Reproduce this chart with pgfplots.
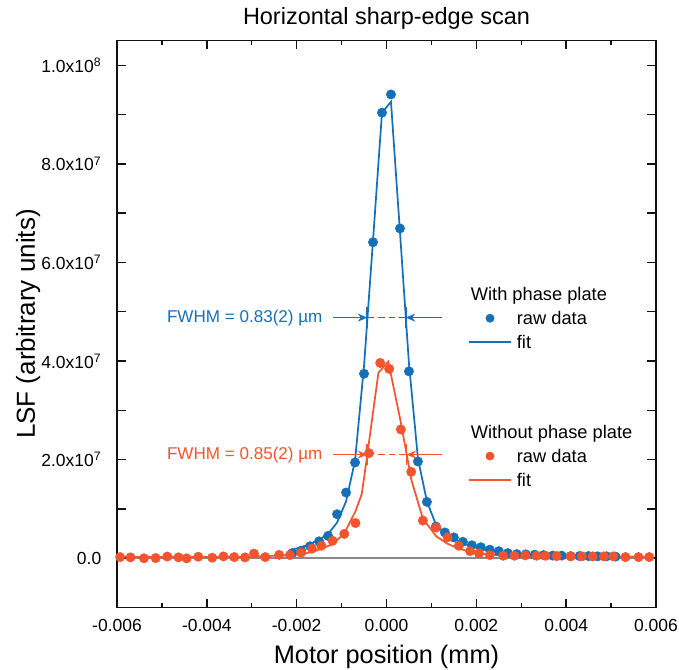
\documentclass[border=0pt]{standalone}
\usepackage{fontspec}
\setmainfont{Liberation Sans}
\usepackage{pgfplots}
\pgfplotsset{compat=1.18}
\usetikzlibrary{arrows.meta}
\definecolor{pblue}{HTML}{1570B8}
\definecolor{pred}{HTML}{F2542D}
\definecolor{zgray}{HTML}{8A8A8A}
\definecolor{frame}{HTML}{121212}

\begin{document}
\begin{tikzpicture}
\begin{axis}[
  scale only axis, width=404.25pt, height=424.95pt,
  xmin=-0.006, xmax=0.006, ymin=-1e7, ymax=1.05e8,
  name=main, clip=false, axis on top,
  axis line style={frame, line width=1.1pt},
  tick align=inside,
  tick style={frame, line width=1.1pt},
  major tick length=6.4pt, minor tick length=3.4pt,
  scaled x ticks=false, scaled y ticks=false,
  xtick={-0.006,-0.004,-0.002,0,0.002,0.004,0.006},
  xticklabels={-0.006,-0.004,-0.002,0.000,0.002,0.004,0.006},
  minor xtick={-0.005,-0.003,-0.001,0.001,0.003,0.005},
  ytick={0,1e7,2e7,3e7,4e7,5e7,6e7,7e7,8e7,9e7,1e8},
  yticklabels={0.0,,2.0x10\textsuperscript{7},,4.0x10\textsuperscript{7},,6.0x10\textsuperscript{7},,8.0x10\textsuperscript{7},,1.0x10\textsuperscript{8}},
  tick label style={font=\fontsize{13.1}{15}\selectfont},
  xticklabel style={yshift=-5.1pt},
  yticklabel style={xshift=-8.3pt},
  title={Horizontal sharp-edge scan},
  every axis title/.style={at={(axis description cs:0.5,1.040)}, anchor=center, inner sep=0pt, font=\fontsize{17.6}{19}\selectfont},
  xlabel={Motor position (mm)},
  xlabel style={at={(axis description cs:0.5,-0.0877)}, anchor=center, inner sep=0pt, font=\fontsize{19}{21}\selectfont},
  ylabel={LSF (arbitrary units)},
  ylabel style={at={(axis description cs:-0.165,0.5)}, anchor=center, inner sep=0pt, font=\fontsize{19.5}{21}\selectfont},
  legend style={draw=none, fill=none, at={(rel axis cs:0.651,0.5678)}, anchor=north west,
    inner sep=0pt, row sep=5.2pt, column sep=3.75pt,
    font=\fontsize{13.7}{16}\selectfont, nodes={inner sep=0pt}},
  legend cell align=left,
  legend image code/.code={\draw[mark repeat=2,mark phase=2,#1] plot coordinates {(0pt,0pt) (15.75pt,0pt) (31.5pt,0pt)};},
]
\addplot[zgray, line width=1.3pt, forget plot] coordinates {(-0.006,0) (0.006,0)};

% with phase plate: raw data
\addplot[only marks, mark=*, mark size=3.5pt, pblue, forget plot] table {
x y
-2.1e-3 0.10e7
-1.9e-3 0.15e7
-1.7e-3 0.24e7
-1.5e-3 0.34e7
-1.3e-3 0.45e7
-1.1e-3 0.89e7
-0.9e-3 1.33e7
-0.7e-3 1.94e7
-0.5e-3 3.74e7
-0.3e-3 6.41e7
-0.1e-3 9.04e7
0.1e-3 9.41e7
0.3e-3 6.69e7
0.5e-3 3.79e7
0.7e-3 1.96e7
0.9e-3 1.14e7
1.1e-3 0.64e7
1.3e-3 0.52e7
1.5e-3 0.42e7
1.7e-3 0.33e7
1.9e-3 0.26e7
2.1e-3 0.22e7
2.3e-3 0.17e7
2.5e-3 0.14e7
2.7e-3 0.10e7
2.9e-3 0.08e7
3.1e-3 0.075e7
3.3e-3 0.068e7
3.5e-3 0.06e7
3.7e-3 0.05e7
3.9e-3 0.05e7
4.1e-3 0.04e7
4.3e-3 0.04e7
4.5e-3 0.04e7
4.7e-3 0.035e7
4.9e-3 0.035e7
5.1e-3 0.03e7
};
% with phase plate: fit
\addplot[pblue, line width=1.3pt, forget plot] table {
x y
-2.1e-3 0.17e7
-1.9e-3 0.22e7
-1.7e-3 0.29e7
-1.5e-3 0.37e7
-1.3e-3 0.49e7
-1.1e-3 0.72e7
-0.9e-3 1.15e7
-0.7e-3 1.98e7
-0.5e-3 3.9e7
-0.3e-3 6.45e7
-0.1e-3 9.04e7
0.1e-3 9.26e7
0.3e-3 6.62e7
0.5e-3 3.95e7
0.7e-3 2.02e7
0.9e-3 1.15e7
1.1e-3 0.68e7
1.3e-3 0.50e7
1.5e-3 0.38e7
1.7e-3 0.30e7
1.9e-3 0.24e7
2.1e-3 0.19e7
2.3e-3 0.15e7
2.5e-3 0.12e7
2.7e-3 0.10e7
2.9e-3 0.085e7
3.1e-3 0.07e7
3.5e-3 0.055e7
4.1e-3 0.04e7
4.5e-3 0.035e7
5.1e-3 0.03e7
};

% without phase plate: raw data
\addplot[only marks, mark=*, mark size=3.5pt, pred, forget plot] table {
x y
-5.93e-3 0.02e7
-5.70e-3 0.014e7
-5.40e-3 -0.005e7
-5.14e-3 0.0
-4.88e-3 0.03e7
-4.63e-3 0.014e7
-4.45e-3 -0.005e7
-4.19e-3 0.027e7
-3.88e-3 0.007e7
-3.63e-3 0.034e7
-3.39e-3 0.02e7
-3.15e-3 0.014e7
-2.95e-3 0.09e7
-2.70e-3 0.02e7
-2.39e-3 0.065e7
-2.15e-3 0.06e7
-1.90e-3 0.11e7
-1.66e-3 0.19e7
-1.45e-3 0.25e7
-1.20e-3 0.35e7
-0.94e-3 0.49e7
-0.69e-3 0.71e7
-0.39e-3 2.13e7
-0.14e-3 3.96e7
0.06e-3 3.84e7
0.32e-3 2.61e7
0.55e-3 1.75e7
0.81e-3 0.76e7
1.11e-3 0.62e7
1.36e-3 0.42e7
1.61e-3 0.25e7
1.86e-3 0.14e7
2.06e-3 0.095e7
2.30e-3 0.06e7
2.60e-3 0.047e7
2.85e-3 0.047e7
3.09e-3 0.054e7
3.34e-3 0.047e7
3.54e-3 0.047e7
3.79e-3 0.04e7
4.10e-3 0.034e7
4.35e-3 0.034e7
4.59e-3 0.034e7
4.84e-3 0.034e7
5.05e-3 0.034e7
5.32e-3 0.02e7
5.61e-3 0.02e7
5.85e-3 0.02e7
};
% without phase plate: fit
\addplot[pred, line width=1.3pt, forget plot] table {
x y
-5.93e-3 0.02e7
-4.19e-3 0.02e7
-3.63e-3 0.025e7
-3.15e-3 0.03e7
-2.70e-3 0.04e7
-2.39e-3 0.05e7
-2.15e-3 0.06e7
-1.90e-3 0.08e7
-1.66e-3 0.12e7
-1.45e-3 0.19e7
-1.20e-3 0.28e7
-0.94e-3 0.50e7
-0.69e-3 0.95e7
-0.55e-3 1.30e7
-0.43e-3 2.08e7
-0.18e-3 3.76e7
0.04e-3 3.99e7
0.32e-3 2.75e7
0.55e-3 1.60e7
0.81e-3 0.80e7
1.11e-3 0.44e7
1.36e-3 0.29e7
1.61e-3 0.19e7
1.86e-3 0.13e7
2.06e-3 0.10e7
2.30e-3 0.07e7
2.60e-3 0.055e7
2.85e-3 0.05e7
3.54e-3 0.04e7
4.10e-3 0.035e7
4.84e-3 0.03e7
5.85e-3 0.025e7
};

% legend: two groups, one spacer row between them
\addlegendimage{empty legend}
\addlegendentry{\strut\hspace*{-34.5pt}With phase plate}
\addlegendimage{only marks, mark=*, mark size=3.1pt, pblue}
\addlegendentry{\strut raw data}
\addlegendimage{pblue, line width=1.3pt}
\addlegendentry{\strut fit}
\addlegendimage{empty legend}
\addlegendentry{\rule{0pt}{43pt}}
\addlegendimage{empty legend}
\addlegendentry{\strut\hspace*{-34.5pt}Without phase plate}
\addlegendimage{only marks, mark=*, mark size=3.1pt, pred}
\addlegendentry{\strut raw data}
\addlegendimage{pred, line width=1.3pt}
\addlegendentry{\strut fit}

% FWHM annotations
\draw[pblue, line width=1.1pt, -{Stealth[length=7pt,width=6pt]}] (axis cs:-1.18e-3,4.88e7) -- (axis cs:-0.43e-3,4.88e7);
\draw[pblue, line width=1.1pt, -{Stealth[length=7pt,width=6pt]}] (axis cs:1.23e-3,4.88e7) -- (axis cs:0.43e-3,4.88e7);
\draw[pblue, line width=1.1pt, dash pattern=on 5pt off 3pt] (axis cs:-0.43e-3,4.88e7) -- (axis cs:0.43e-3,4.88e7);
\draw[pblue, line width=1.1pt] (axis cs:-0.43e-3,4.88e7) ++(0pt,-8pt) -- ++(0pt,16pt);
\draw[pblue, line width=1.1pt] (axis cs:0.43e-3,4.88e7) ++(0pt,-8pt) -- ++(0pt,16pt);
\node[pblue, anchor=east, inner sep=0pt, font=\fontsize{12.8}{15}\selectfont] at (axis cs:-1.42e-3,4.88e7) {FWHM = 0.83(2) µm};

\draw[pred, line width=1.1pt, -{Stealth[length=7pt,width=6pt]}] (axis cs:-1.18e-3,2.10e7) -- (axis cs:-0.43e-3,2.10e7);
\draw[pred, line width=1.1pt, -{Stealth[length=7pt,width=6pt]}] (axis cs:1.23e-3,2.10e7) -- (axis cs:0.45e-3,2.10e7);
\draw[pred, line width=1.1pt, dash pattern=on 5pt off 3pt] (axis cs:-0.43e-3,2.10e7) -- (axis cs:0.45e-3,2.10e7);
\draw[pred, line width=1.1pt] (axis cs:-0.43e-3,2.10e7) ++(0pt,-8pt) -- ++(0pt,16pt);
\draw[pred, line width=1.1pt] (axis cs:0.45e-3,2.10e7) ++(0pt,-8pt) -- ++(0pt,16pt);
\node[pred, anchor=east, inner sep=0pt, font=\fontsize{12.8}{15}\selectfont] at (axis cs:-1.42e-3,2.10e7) {FWHM = 0.85(2) µm};

% frame and inward ticks, drawn once more by hand
\draw[frame, line width=1.1pt] (rel axis cs:0,0) rectangle (rel axis cs:1,1);
\pgfplotsinvokeforeach{-0.004,-0.002,0,0.002,0.004}{
  \draw[frame, line width=1.1pt] (axis cs:#1,-1e7) -- ++(0pt,6.4pt);
  \draw[frame, line width=1.1pt] (axis cs:#1,1.05e8) -- ++(0pt,-6.4pt);
}
\pgfplotsinvokeforeach{-0.005,-0.003,-0.001,0.001,0.003,0.005}{
  \draw[frame, line width=1.1pt] (axis cs:#1,-1e7) -- ++(0pt,3.4pt);
  \draw[frame, line width=1.1pt] (axis cs:#1,1.05e8) -- ++(0pt,-3.4pt);
}
\pgfplotsinvokeforeach{0,1e7,2e7,3e7,4e7,5e7,6e7,7e7,8e7,9e7,1e8}{
  \draw[frame, line width=1.1pt] (axis cs:-0.006,#1) -- ++(6.4pt,0pt);
  \draw[frame, line width=1.1pt] (axis cs:0.006,#1) -- ++(-6.4pt,0pt);
}
\end{axis}

\pgfresetboundingbox
\path[use as bounding box] (main.south west) ++(-87.75pt,-47.0pt) rectangle ++(509.25pt,502.5pt);
\end{tikzpicture}
\end{document}
